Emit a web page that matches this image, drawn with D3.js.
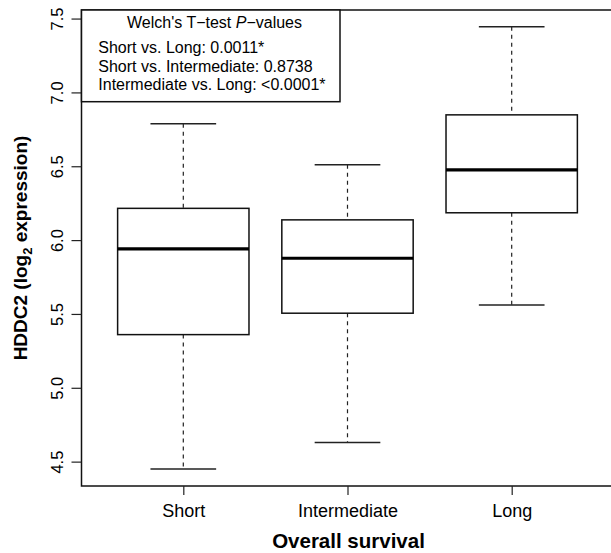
<!DOCTYPE html>
<html>
<head>
    <title>HDDC2 boxplot</title>
    <style type="text/css">
        body { margin: 0; background: #fff; }
        svg text { font-family: "Liberation Sans", Arial, sans-serif; fill: #000; }
        .axis path.domain { display: none; }
        .axis line { stroke: #222; stroke-width: 1.2; }
    </style>
</head>
<body>
<script src="https://d3js.org/d3.v7.min.js" type="text/javascript"></script>
<script type="text/javascript">

    // data
    var groups = ['Short', 'Intermediate', 'Long'];
    var whiskerLow = [4.45, 4.63, 5.56];
    var q1 = [5.36, 5.505, 6.185];
    var medians = [5.94, 5.877, 6.475];
    var q3 = [6.215, 6.137, 6.848];
    var whiskerHigh = [6.788, 6.51, 7.444];
    var yTicks = [4.5, 5.0, 5.5, 6.0, 6.5, 7.0, 7.5];
    var legendTitle = ["Welch's T\u2212test ", 'P', '\u2212values'];
    var legendLines = [
        'Short vs. Long: 0.0011*',
        'Short vs. Intermediate: 0.8738',
        'Intermediate vs. Long: <0.0001*'
    ];

    var W = 611, H = 553;
    // note: "top" is taken by window.top, so plot edges get their own names
    var plotL = 81.5, plotR = 613.5, plotT = 10, plotB = 486;

    var svg = d3.select('body').append('svg')
        .attr('width', W)
        .attr('height', H);

    var x = d3.scaleLinear().domain([0.38, 3.62]).range([plotL, plotR]);
    var y = d3.scaleLinear().domain([4.335, 7.558]).range([plotB, plotT]);

    var boxes = groups.map(function (g, i) {
        return { name: g, pos: i + 1, lo: whiskerLow[i], q1: q1[i], med: medians[i], q3: q3[i], hi: whiskerHigh[i] };
    });

    var bw = x(1.4) - x(1); // half box width (boxwex 0.8)
    var sw = bw / 2;        // half staple width

    var g = svg.append('g').selectAll('g.box')
        .data(boxes).enter()
        .append('g').attr('class', 'box');

    // dashed whiskers
    g.append('line')
        .attr('x1', function (d) { return x(d.pos); })
        .attr('x2', function (d) { return x(d.pos); })
        .attr('y1', function (d) { return y(d.hi); })
        .attr('y2', function (d) { return y(d.q3); })
        .attr('stroke', '#222').attr('stroke-width', 1.2).attr('stroke-dasharray', '4,4');
    g.append('line')
        .attr('x1', function (d) { return x(d.pos); })
        .attr('x2', function (d) { return x(d.pos); })
        .attr('y1', function (d) { return y(d.q1); })
        .attr('y2', function (d) { return y(d.lo); })
        .attr('stroke', '#222').attr('stroke-width', 1.2).attr('stroke-dasharray', '4,4');

    // staples
    ['hi', 'lo'].forEach(function (k) {
        g.append('line')
            .attr('x1', function (d) { return x(d.pos) - sw; })
            .attr('x2', function (d) { return x(d.pos) + sw; })
            .attr('y1', function (d) { return y(d[k]); })
            .attr('y2', function (d) { return y(d[k]); })
            .attr('stroke', '#222').attr('stroke-width', 1.5);
    });

    // box
    g.append('rect')
        .attr('x', function (d) { return x(d.pos) - bw; })
        .attr('width', 2 * bw)
        .attr('y', function (d) { return y(d.q3); })
        .attr('height', function (d) { return y(d.q1) - y(d.q3); })
        .attr('fill', 'none').attr('stroke', '#111').attr('stroke-width', 1.5);

    // median
    g.append('line')
        .attr('x1', function (d) { return x(d.pos) - bw; })
        .attr('x2', function (d) { return x(d.pos) + bw; })
        .attr('y1', function (d) { return y(d.med); })
        .attr('y2', function (d) { return y(d.med); })
        .attr('stroke', '#000').attr('stroke-width', 3.2);

    // frame
    svg.append('rect')
        .attr('x', plotL).attr('y', plotT)
        .attr('width', plotR - plotL).attr('height', plotB - plotT)
        .attr('fill', 'none').attr('stroke', '#111').attr('stroke-width', 1.5);

    // y axis
    var ya = svg.append('g').attr('class', 'axis')
        .attr('transform', 'translate(' + plotL + ',0)')
        .call(d3.axisLeft(y).tickValues(yTicks).tickSize(10).tickFormat(d3.format('.1f')));
    ya.selectAll('text')
        .attr('transform', 'rotate(-90)')
        .attr('x', 0).attr('y', -19).attr('dy', 0)
        .attr('text-anchor', 'middle')
        .style('font-size', '16.5px');

    // x axis
    var xa = svg.append('g').attr('class', 'axis')
        .attr('transform', 'translate(0,' + plotB + ')')
        .call(d3.axisBottom(x).tickValues([1, 2, 3]).tickSize(9)
            .tickFormat(function (d) { return groups[d - 1]; }));
    xa.selectAll('text')
        .attr('y', 31).attr('dy', 0)
        .style('font-size', '18px');

    // axis titles
    svg.append('text')
        .attr('x', (plotL + plotR) / 2 + 1).attr('y', 548)
        .attr('text-anchor', 'middle')
        .style('font-size', '20.5px').style('font-weight', 'bold')
        .text('Overall survival');

    var yt = svg.append('text')
        .attr('transform', 'translate(27,' + ((plotT + plotB) / 2) + ') rotate(-90)')
        .attr('text-anchor', 'middle')
        .style('font-size', '19px').style('font-weight', 'bold');
    yt.append('tspan').text('HDDC2 (log');
    yt.append('tspan').attr('dy', 5).style('font-size', '13px').text('2');
    yt.append('tspan').attr('dy', -5).text(' expression)');

    // legend
    svg.append('rect')
        .attr('x', plotL).attr('y', plotT)
        .attr('width', 340 - plotL).attr('height', 101.7 - plotT)
        .attr('fill', '#fff').attr('stroke', '#111').attr('stroke-width', 1.5);

    var lt = svg.append('text')
        .attr('x', 214.5).attr('y', 28.3)
        .attr('text-anchor', 'middle')
        .style('font-size', '16px');
    legendTitle.forEach(function (s, i) {
        var t = lt.append('tspan').text(s);
        if (i === 1) t.style('font-style', 'italic');
    });

    svg.selectAll('text.leg')
        .data(legendLines).enter()
        .append('text').attr('class', 'leg')
        .attr('x', 98.3)
        .attr('y', function (d, i) { return 53.3 + i * 18.3; })
        .style('font-size', '16px')
        .text(function (d) { return d; });

</script>
</body>
</html>
